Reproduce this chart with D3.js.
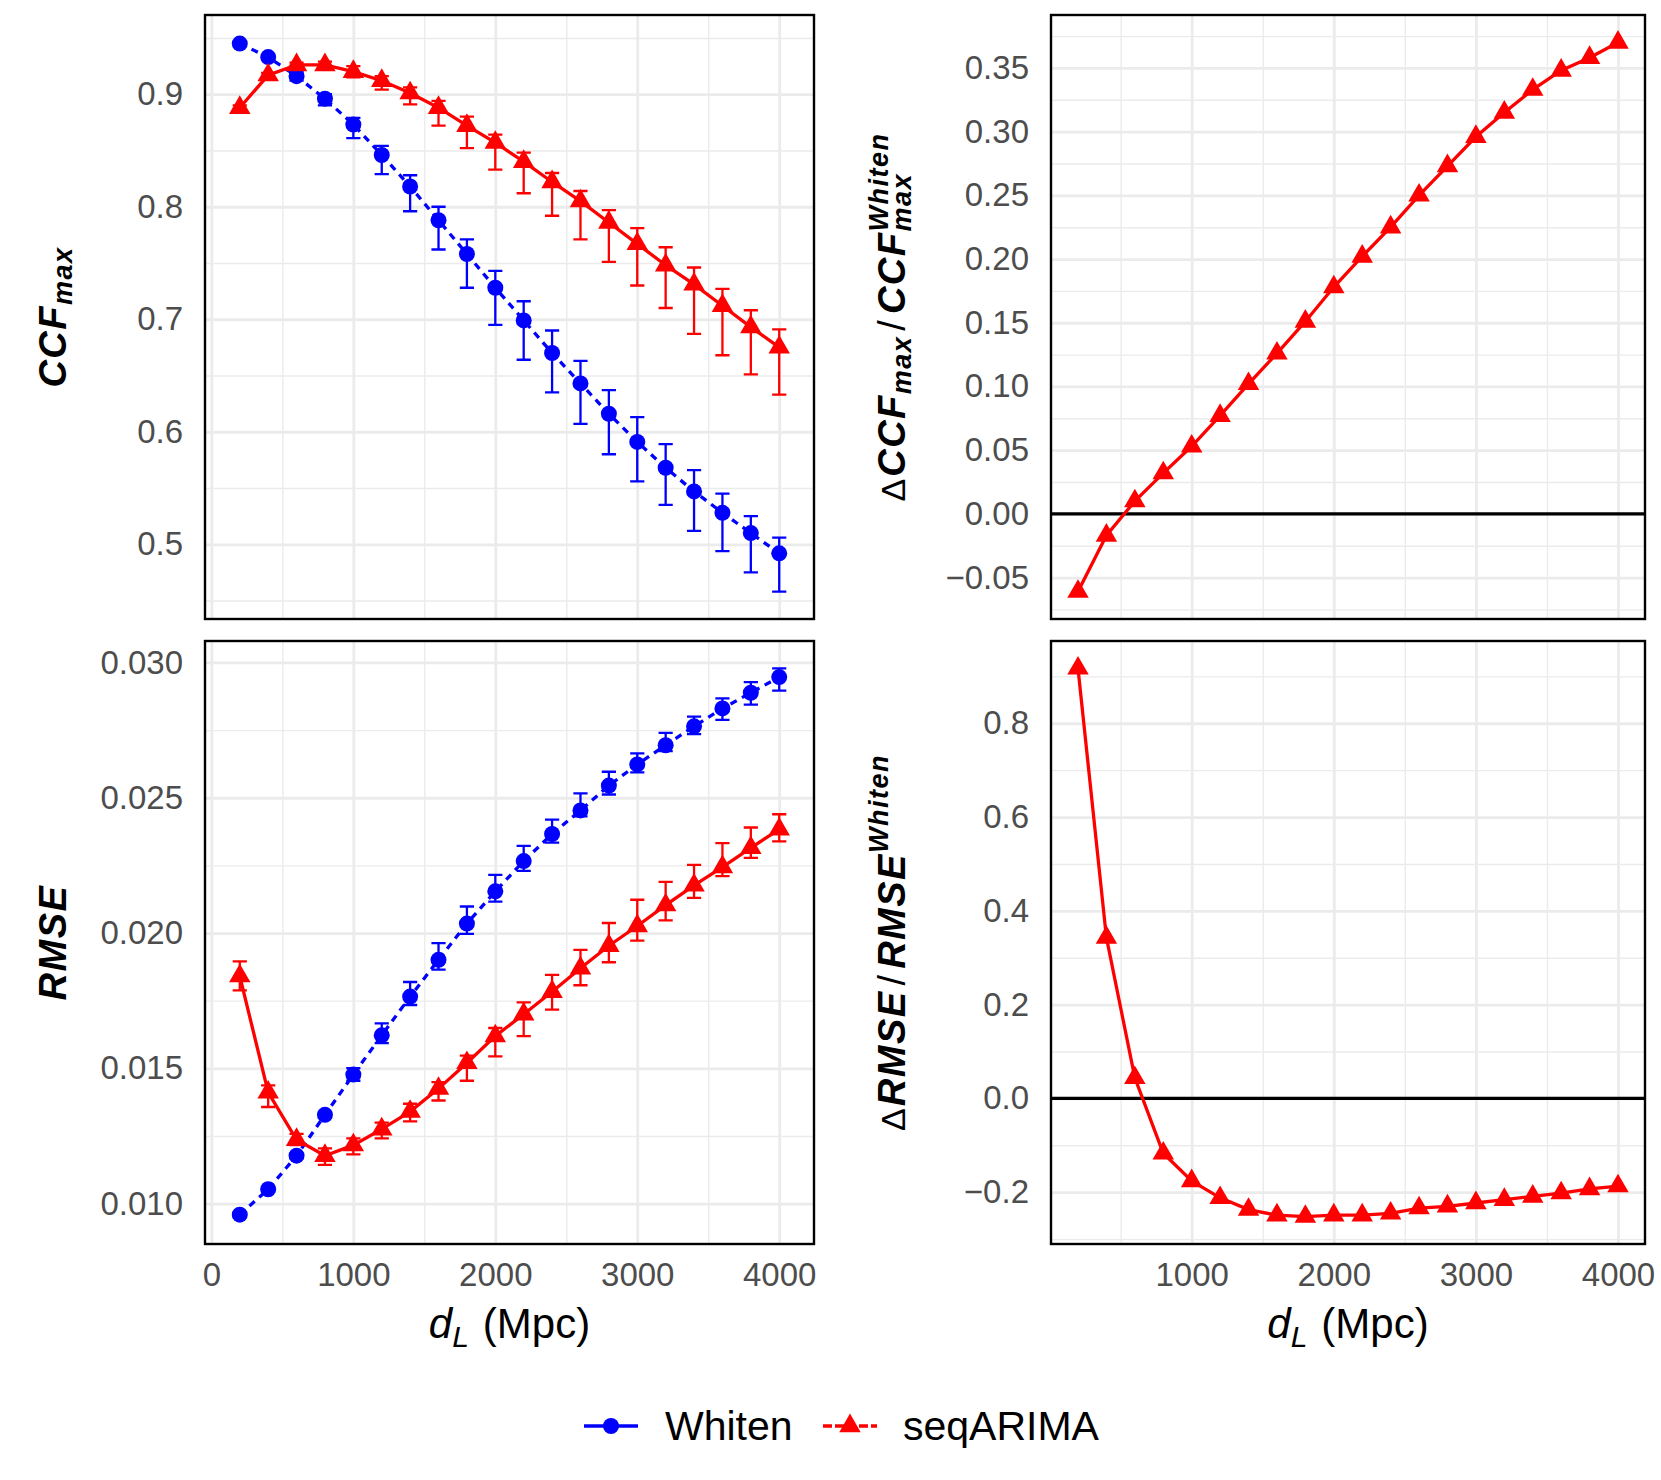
<!DOCTYPE html>
<html><head><meta charset="utf-8">
<script src="https://cdn.jsdelivr.net/npm/d3@7"></script>
<style>body{margin:0;background:#fff}</style>
</head><body>
<svg id="chart" width="1661" height="1480"></svg>
<script>
// ---------------- data ----------------
const dL = [200,400,600,800,1000,1200,1400,1600,1800,2000,2200,2400,2600,2800,3000,3200,3400,3600,3800,4000];
const seriesNames = ["Whiten","seqARIMA"];

const ccfWhiten   = [0.945,0.933,0.916,0.896,0.873,0.846,0.818,0.788,0.758,0.728,0.699,0.670,0.643,0.616,0.591,0.568,0.547,0.528,0.510,0.492];
const ccfWhitenLo = [0.944,0.931,0.912,0.890,0.861,0.829,0.796,0.762,0.728,0.695,0.664,0.635,0.607,0.580,0.556,0.535,0.512,0.494,0.475,0.458];
const ccfWhitenHi = [0.946,0.935,0.920,0.900,0.879,0.854,0.828,0.800,0.771,0.743,0.716,0.690,0.663,0.637,0.613,0.589,0.566,0.545,0.525,0.506];

const ccfSeq   = [0.888,0.917,0.926,0.926,0.920,0.912,0.901,0.888,0.872,0.857,0.840,0.822,0.805,0.786,0.767,0.748,0.731,0.712,0.693,0.675];
const ccfSeqLo = [0.886,0.915,0.924,0.923,0.915,0.904,0.891,0.872,0.852,0.833,0.812,0.792,0.771,0.751,0.730,0.710,0.687,0.668,0.651,0.633];
const ccfSeqHi = [0.890,0.919,0.928,0.929,0.925,0.916,0.906,0.894,0.880,0.864,0.848,0.830,0.814,0.797,0.781,0.764,0.746,0.727,0.708,0.691];

const rmseWhiten   = [0.00959,0.01053,0.01177,0.01328,0.01477,0.01622,0.01765,0.01901,0.02035,0.02154,0.02266,0.02366,0.02453,0.02545,0.02623,0.02694,0.02764,0.02830,0.02888,0.02946];
const rmseWhitenLo = [0.00952,0.01045,0.01168,0.01317,0.01454,0.01593,0.01734,0.01865,0.01997,0.02116,0.02230,0.02334,0.02431,0.02512,0.02594,0.02672,0.02735,0.02788,0.02844,0.02896];
const rmseWhitenHi = [0.00966,0.01061,0.01186,0.01339,0.01501,0.01666,0.01819,0.01963,0.02098,0.02215,0.02322,0.02419,0.02516,0.02596,0.02664,0.02740,0.02800,0.02867,0.02927,0.02978];

const rmseSeq   = [0.01841,0.01411,0.01236,0.01177,0.01216,0.01275,0.01340,0.01425,0.01520,0.01619,0.01700,0.01783,0.01870,0.01953,0.02026,0.02103,0.02176,0.02244,0.02315,0.02383];
const rmseSeqLo = [0.01788,0.01357,0.01216,0.01143,0.01182,0.01241,0.01304,0.01381,0.01454,0.01544,0.01619,0.01717,0.01807,0.01892,0.01972,0.02047,0.02130,0.02210,0.02278,0.02339];
const rmseSeqHi = [0.01895,0.01437,0.01258,0.01204,0.01241,0.01299,0.01369,0.01449,0.01547,0.01649,0.01744,0.01845,0.01938,0.02037,0.02123,0.02189,0.02252,0.02332,0.02390,0.02439];

const ccfRel  = [-0.061,-0.017,0.010,0.032,0.053,0.077,0.102,0.126,0.151,0.178,0.202,0.225,0.250,0.273,0.296,0.315,0.333,0.348,0.358,0.370];
const rmseRel = [0.917,0.343,0.044,-0.117,-0.176,-0.212,-0.237,-0.249,-0.252,-0.249,-0.249,-0.245,-0.234,-0.230,-0.223,-0.216,-0.209,-0.202,-0.193,-0.187];

// tick values
const xTicksLeft  = [0,1000,2000,3000,4000];
const xTicksRight = [1000,2000,3000,4000];
const xMinorTicks = [500,1500,2500,3500];
const yTicksCCF   = [0.5,0.6,0.7,0.8,0.9];
const yMinorCCF   = [0.45,0.55,0.65,0.75,0.85,0.95];
const yTicksRMSE  = [0.010,0.015,0.020,0.025,0.030];
const yMinorRMSE  = [0.0125,0.0175,0.0225,0.0275];
const yTicksCCFRel = [-0.05,0,0.05,0.10,0.15,0.20,0.25,0.30,0.35];
const yMinorCCFRel = [-0.075,-0.025,0.025,0.075,0.125,0.175,0.225,0.275,0.325,0.375];
const yTicksRMSERel = [-0.2,0,0.2,0.4,0.6,0.8];
const yMinorRMSERel = [-0.3,-0.1,0.1,0.3,0.5,0.7,0.9];

// ---------------- layout / style ----------------
const W = 1661, H = 1480;
const font = "'Liberation Sans', Arial, Helvetica, sans-serif";
const colors = {Whiten: "#0000FF", seqARIMA: "#FF0000"};
const gridCol = "#EBEBEB";
const Lx = [205, 814], Rx = [1051, 1645];
const Ty = [15, 619], By = [641, 1244];
const ebWidth = 100;
const lineW = 3.3, ptR = 8, triArea = 200;

const svg = d3.select("#chart");
svg.append("rect").attr("width", W).attr("height", H).attr("fill", "#fff");

function expand(lo, hi, f = 0.05) { const d = (hi - lo) * f; return [lo - d, hi + d]; }

const xLeft = d3.scaleLinear()
  .domain(expand(d3.min(dL) - ebWidth / 2, d3.max(dL) + ebWidth / 2)).range(Lx);
const xRight = d3.scaleLinear()
  .domain(expand(d3.min(dL), d3.max(dL))).range(Rx);

function panel(opts) {
  const {x, yr, yDomain, yMajor, yMinor, fmt, xMajor, zeroLine} = opts;
  const [x0, x1] = x.range();
  const y = d3.scaleLinear().domain(yDomain).range([yr[1], yr[0]]);
  const g = svg.append("g");
  const inX = v => v >= x.domain()[0] && v <= x.domain()[1];
  const inY = v => v >= y.domain()[0] && v <= y.domain()[1];

  // minor grid
  g.append("g").attr("transform", `translate(0,${yr[1]})`)
    .call(d3.axisBottom(x).tickValues(xMinorTicks.filter(inX)).tickSize(-(yr[1] - yr[0])).tickFormat(""))
    .call(a => { a.select(".domain").remove(); a.selectAll("line").attr("stroke", gridCol).attr("stroke-width", 1.4); });
  g.append("g").attr("transform", `translate(${x0},0)`)
    .call(d3.axisLeft(y).tickValues(yMinor.filter(inY)).tickSize(-(x1 - x0)).tickFormat(""))
    .call(a => { a.select(".domain").remove(); a.selectAll("line").attr("stroke", gridCol).attr("stroke-width", 1.4); });
  // major grid
  g.append("g").attr("transform", `translate(0,${yr[1]})`)
    .call(d3.axisBottom(x).tickValues(xMajor.filter(inX)).tickSize(-(yr[1] - yr[0])).tickFormat(""))
    .call(a => { a.select(".domain").remove(); a.selectAll("line").attr("stroke", gridCol).attr("stroke-width", 2.8); });
  g.append("g").attr("transform", `translate(${x0},0)`)
    .call(d3.axisLeft(y).tickValues(yMajor.filter(inY)).tickSize(-(x1 - x0)).tickFormat(""))
    .call(a => { a.select(".domain").remove(); a.selectAll("line").attr("stroke", gridCol).attr("stroke-width", 2.8); });

  // y tick labels
  g.append("g").attr("transform", `translate(${x0},0)`)
    .call(d3.axisLeft(y).tickValues(yMajor).tickSize(0).tickPadding(22).tickFormat(d3.format(fmt)))
    .call(a => {
      a.select(".domain").remove();
      a.selectAll("text").attr("fill", "#4D4D4D").style("font-family", font).style("font-size", "33px");
    });
  // x tick labels (bottom row only)
  if (opts.showX) {
    g.append("g").attr("transform", `translate(0,${yr[1]})`)
      .call(d3.axisBottom(x).tickValues(xMajor).tickSize(0).tickPadding(19).tickFormat(d3.format("d")))
      .call(a => {
        a.select(".domain").remove();
        a.selectAll("text").attr("fill", "#4D4D4D").style("font-family", font).style("font-size", "33px");
      });
  }

  if (zeroLine) {
    g.append("line").attr("x1", x0).attr("x2", x1).attr("y1", y(0)).attr("y2", y(0))
      .attr("stroke", "#000").attr("stroke-width", 3.4);
  }

  const line = d3.line().x(d => x(d.x)).y(d => y(d.y));
  opts.series.forEach(s => {
    const pts = dL.map((v, i) => ({x: v, y: s.values[i], lo: s.lo ? s.lo[i] : null, hi: s.hi ? s.hi[i] : null}));
    const col = colors[s.name];
    g.append("path").datum(pts).attr("d", line).attr("fill", "none").attr("stroke", col)
      .attr("stroke-width", lineW).attr("stroke-dasharray", s.name === "Whiten" ? "7,6" : null);
    if (s.lo) {
      const half = (x(ebWidth) - x(0)) / 2;
      g.append("g").selectAll("path").data(pts).join("path")
        .attr("d", d => {
          const cx = x(d.x), yl = y(d.lo), yh = y(d.hi);
          return `M${cx - half},${yh}H${cx + half}M${cx},${yh}V${yl}M${cx - half},${yl}H${cx + half}`;
        })
        .attr("fill", "none").attr("stroke", col).attr("stroke-width", 2.3);
    }
    if (s.name === "Whiten") {
      g.append("g").selectAll("circle").data(pts).join("circle")
        .attr("cx", d => x(d.x)).attr("cy", d => y(d.y)).attr("r", ptR).attr("fill", col);
    } else {
      const tri = d3.symbol(d3.symbolTriangle, triArea);
      g.append("g").selectAll("path").data(pts).join("path")
        .attr("transform", d => `translate(${x(d.x)},${y(d.y)})`).attr("d", tri).attr("fill", col);
    }
  });

  // border
  g.append("rect").attr("x", x0).attr("y", yr[0]).attr("width", x1 - x0).attr("height", yr[1] - yr[0])
    .attr("fill", "none").attr("stroke", "#000").attr("stroke-width", 2.4);
  return y;
}

function domainOf(arrs) { return expand(d3.min(arrs.flat()), d3.max(arrs.flat())); }

panel({x: xLeft, yr: Ty, yDomain: domainOf([ccfWhitenLo, ccfWhitenHi, ccfSeqLo, ccfSeqHi, ccfWhiten, ccfSeq]),
  yMajor: yTicksCCF, yMinor: yMinorCCF, fmt: ".1f", xMajor: xTicksLeft, showX: false,
  series: [{name: "Whiten", values: ccfWhiten, lo: ccfWhitenLo, hi: ccfWhitenHi},
           {name: "seqARIMA", values: ccfSeq, lo: ccfSeqLo, hi: ccfSeqHi}]});
panel({x: xLeft, yr: By, yDomain: domainOf([rmseWhitenLo, rmseWhitenHi, rmseSeqLo, rmseSeqHi, rmseWhiten, rmseSeq]),
  yMajor: yTicksRMSE, yMinor: yMinorRMSE, fmt: ".3f", xMajor: xTicksLeft, showX: true,
  series: [{name: "Whiten", values: rmseWhiten, lo: rmseWhitenLo, hi: rmseWhitenHi},
           {name: "seqARIMA", values: rmseSeq, lo: rmseSeqLo, hi: rmseSeqHi}]});
panel({x: xRight, yr: Ty, yDomain: domainOf([ccfRel]), zeroLine: true,
  yMajor: yTicksCCFRel, yMinor: yMinorCCFRel, fmt: ".2f", xMajor: xTicksRight, showX: false,
  series: [{name: "seqARIMA", values: ccfRel}]});
panel({x: xRight, yr: By, yDomain: domainOf([rmseRel]), zeroLine: true,
  yMajor: yTicksRMSERel, yMinor: yMinorRMSERel, fmt: ".1f", xMajor: xTicksRight, showX: true,
  series: [{name: "seqARIMA", values: rmseRel}]});

// ---------------- titles ----------------
function richText(transform, parts, anchor = "middle") {
  const t = svg.append("text").attr("transform", transform).attr("text-anchor", anchor)
    .style("font-family", font).attr("fill", "#000");
  let cur = 0, prevLen = 0;
  parts.forEach(p => {
    const ts = t.append("tspan").text(p.text)
      .style("font-size", p.size + "px")
      .style("font-weight", p.weight || "normal")
      .style("font-style", p.style || "normal")
      .style("letter-spacing", (p.ls || 0) + "px");
    const sh = p.shift || 0;
    if (sh - cur !== 0) ts.attr("dy", sh - cur);
    cur = sh;
    let dx = p.dx || 0;
    if (p.back) dx -= prevLen;
    if (dx) ts.attr("dx", dx);
    prevLen = ts.node().getComputedTextLength();
  });
  return t;
}
const M = 38, S = 27;
const bi = {weight: "bold", style: "italic", ls: 1.5};
richText(`translate(66,${(Ty[0] + Ty[1]) / 2}) rotate(-90)`, [
  {text: "CCF", size: M, ...bi}, {text: "max", size: S, ...bi, shift: 6}]);
richText(`translate(66,${(By[0] + By[1]) / 2}) rotate(-90)`, [
  {text: "RMSE", size: M, ...bi}]);
richText(`translate(905,${(Ty[0] + Ty[1]) / 2}) rotate(-90)`, [
  {text: "\u0394", size: 34, weight: "normal", ls: 2},
  {text: "CCF", size: M, ...bi}, {text: "max", size: S, ...bi, shift: 6},
  {text: "/", size: M, weight: "normal", dx: 5}, {text: "CCF", size: M, ...bi, dx: 6},
  {text: "max", size: S, ...bi, shift: 6}, {text: "Whiten", size: S, ...bi, shift: -17, back: true}]);
richText(`translate(905,${(By[0] + By[1]) / 2}) rotate(-90)`, [
  {text: "\u0394", size: 34, weight: "normal", ls: 2},
  {text: "RMSE", size: M, ...bi}, {text: "/", size: M, weight: "normal", dx: 5},
  {text: "RMSE", size: M, ...bi, dx: 6}, {text: "Whiten", size: S, ...bi, shift: -17}]);

[Lx, Rx].forEach(r => {
  richText(`translate(${(r[0] + r[1]) / 2},1338)`, [
    {text: "d", size: 42, style: "italic"}, {text: "L", size: 30, style: "italic", shift: 9},
    {text: "(Mpc)", size: 42, dx: 14}]);
});

// ---------------- legend ----------------
const legendY = 1426;
const legendItems = [{name: seriesNames[0], kx: 584, tx: 665, dash: null},
                     {name: seriesNames[1], kx: 823, tx: 903, dash: "9,3"}];
const lg = svg.append("g");
legendItems.forEach(it => {
  const c = colors[it.name];
  lg.append("line").attr("x1", it.kx).attr("x2", it.kx + 54).attr("y1", legendY).attr("y2", legendY)
    .attr("stroke", c).attr("stroke-width", lineW).attr("stroke-dasharray", it.dash);
  if (it.name === "Whiten") {
    lg.append("circle").attr("cx", it.kx + 27).attr("cy", legendY).attr("r", ptR).attr("fill", c);
  } else {
    lg.append("path").attr("transform", `translate(${it.kx + 27},${legendY})`)
      .attr("d", d3.symbol(d3.symbolTriangle, triArea)).attr("fill", c);
  }
  lg.append("text").attr("x", it.tx).attr("y", legendY).attr("dy", "0.35em").text(it.name)
    .style("font-family", font).style("font-size", "41px").attr("fill", "#000");
});
</script>
</body></html>
